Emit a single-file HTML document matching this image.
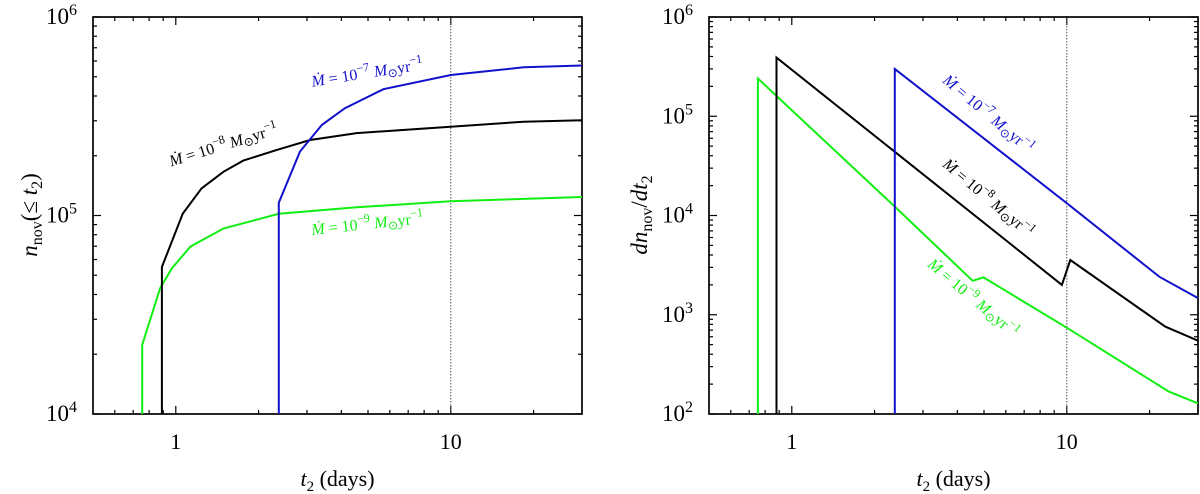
<!DOCTYPE html>
<html><head><meta charset="utf-8"><style>
body{margin:0;background:#fff;}
svg{display:block;font-family:"Liberation Serif",serif;}
</style></head><body>
<svg id="fig" width="1200" height="494" viewBox="0 0 1200 494"></svg>
<script>
// ---- data ----
const xTicks = [1, 10];
const xTickLabels = ["1", "10"];
const leftYTicks = [4, 5, 6];
const rightYTicks = [2, 3, 4, 5, 6];
// left panel: cumulative n_nov(<= t2)
const leftBlackT = [0.89, 0.89, 1.06, 1.24, 1.49, 1.76, 2.33, 3.08, 4.55, 10, 18.4, 30];
const leftBlackN = [1e4, 5.5e4, 1.02e5, 1.37e5, 1.66e5, 1.89e5, 2.14e5, 2.4e5, 2.6e5, 2.8e5, 2.97e5, 3.02e5];
const leftBlueT = [2.37, 2.37, 2.83, 3.4, 4.12, 5.69, 10, 18.4, 30];
const leftBlueN = [1e4, 1.16e5, 2.1e5, 2.86e5, 3.47e5, 4.33e5, 5.1e5, 5.58e5, 5.7e5];
const leftGreenT = [0.755, 0.755, 0.877, 0.966, 1.13, 1.49, 2.37, 4.55, 10, 30];
const leftGreenN = [1e4, 2.23e4, 4.3e4, 5.4e4, 6.97e4, 8.6e4, 1.02e5, 1.1e5, 1.18e5, 1.24e5];
// right panel: dn/dt2
const rightBlackT = [0.88, 0.88, 9.6, 10.3, 22.8, 30];
const rightBlackR = [100, 3.9e5, 2.0e3, 3.56e3, 760, 548];
const rightBlueT = [2.37, 2.37, 10, 21.7, 30];
const rightBlueR = [100, 3.0e5, 1.33e4, 2.42e3, 1.47e3];
const rightGreenT = [0.753, 0.753, 2.37, 4.55, 4.98, 10, 23.5, 30];
const rightGreenR = [100, 2.4e5, 1.23e4, 2.2e3, 2.38e3, 740, 168, 128];

const NS = "http://www.w3.org/2000/svg";
const svg = document.getElementById("fig");
function el(tag, attrs, parent){
  const e = document.createElementNS(NS, tag);
  for (const k in attrs) e.setAttribute(k, attrs[k]);
  (parent || svg).appendChild(e);
  return e;
}
const XMIN = Math.log10(0.5), XMAX = Math.log10(30);
function makePanel(x0, x1, y0, y1, ymin, ymax){
  return {
    x: t => x0 + (Math.log10(t) - XMIN) / (XMAX - XMIN) * (x1 - x0),
    y: v => y1 - (Math.log10(v) - ymin) / (ymax - ymin) * (y1 - y0),
    x0, x1, y0, y1, ymin, ymax
  };
}
const L = makePanel(93, 582, 17, 414, 4, 6);
const R = makePanel(709, 1198, 17, 414, 2, 6);

function drawAxes(P, yTicks, name){
  const g = el("g", {});
  
  
  const minors = [0.6,0.7,0.8,0.9,2,3,4,5,6,7,8,9,20,30];
  minors.forEach(t => {
    const x = P.x(t);
    if (x >= P.x1 - 0.5) return;
    el("line", {x1:x, x2:x, y1:P.y1, y2:P.y1-4, stroke:"#000", "stroke-width":1.2}, g);
    el("line", {x1:x, x2:x, y1:P.y0, y2:P.y0+4, stroke:"#000", "stroke-width":1.2}, g);
  });
  xTicks.forEach((t, i) => {
    const x = P.x(t);
    el("line", {x1:x, x2:x, y1:P.y1, y2:P.y1-8, stroke:"#000", "stroke-width":1.2}, g);
    el("line", {x1:x, x2:x, y1:P.y0, y2:P.y0+8, stroke:"#000", "stroke-width":1.2}, g);
    const tl = el("text", {x:x, y:P.y1+35, "text-anchor":"middle", "font-size":22}, g);
    tl.textContent = xTickLabels[i];
    
    
  });
  const dl = el("line", {x1:P.x(10), x2:P.x(10), y1:P.y0, y2:P.y1, stroke:"#555", "stroke-width":1, "stroke-dasharray":"1.5,1.5"}, g);
  
  
  for (let d = P.ymin; d < P.ymax; d++){
    for (let m = 2; m <= 9; m++){
      const y = P.y(m * Math.pow(10, d));
      el("line", {x1:P.x0, x2:P.x0+4, y1:y, y2:y, stroke:"#000", "stroke-width":1.2}, g);
      el("line", {x1:P.x1, x2:P.x1-4, y1:y, y2:y, stroke:"#000", "stroke-width":1.2}, g);
    }
  }
  yTicks.forEach(d => {
    const y = P.y(Math.pow(10, d));
    el("line", {x1:P.x0, x2:P.x0+8, y1:y, y2:y, stroke:"#000", "stroke-width":1.2}, g);
    el("line", {x1:P.x1, x2:P.x1-8, y1:y, y2:y, stroke:"#000", "stroke-width":1.2}, g);
    const tl = el("text", {x:P.x0-16, y:y+7, "text-anchor":"end", "font-size":23}, g);
    
    
    tl.appendChild(document.createTextNode("10"));
    const s = el("tspan", {dy:-9, "font-size":16}, tl);
    s.textContent = String(d);
  });
  const fr = el("rect", {x:P.x0, y:P.y0, width:P.x1-P.x0, height:P.y1-P.y0, fill:"none", stroke:"#000", "stroke-width":1.7}, g);
  
  
  const xt = el("text", {x:(P.x0+P.x1)/2, y:486, "text-anchor":"middle", "font-size":22}, g);
  
  
  const ti = el("tspan", {"font-style":"italic"}, xt); ti.textContent = "t";
  const ts = el("tspan", {dy:5, "font-size":15}, xt); ts.textContent = "2";
  const tr = el("tspan", {dy:-5}, xt); tr.textContent = " (days)";
}
function drawLine(P, ts, vs, color, name){
  const pts = ts.map((t, i) => P.x(t).toFixed(1) + "," + P.y(vs[i]).toFixed(1)).join(" ");
  const pl = el("polyline", {points:pts, fill:"none", stroke:color, "stroke-width":2, "stroke-linejoin":"miter"});
  
  
}
function label(x, y, rot, color, exp, name){
  const t = el("text", {x:0, y:0, transform:`translate(${x},${y}) rotate(${rot})`, "text-anchor":"middle", "font-size":16, fill:color});
  
  
  const a = el("tspan", {"font-style":"italic"}, t); a.textContent = "Ṁ";
  const b = el("tspan", {}, t); b.textContent = " = 10";
  const c = el("tspan", {dy:-7, "font-size":12}, t); c.textContent = "−" + exp;
  const d = el("tspan", {dy:7, "font-style":"italic"}, t); d.textContent = " M";
  const e = el("tspan", {dy:3, "font-size":12}, t); e.textContent = "⊙";
  const f = el("tspan", {dy:-3}, t); f.textContent = "yr";
  const h = el("tspan", {dy:-7, "font-size":12}, t); h.textContent = "−1";
}

drawAxes(L, leftYTicks, "left-panel");
drawAxes(R, rightYTicks, "right-panel");

drawLine(L, leftGreenT, leftGreenN, "#11ee11", "left-series-1e-9");
drawLine(L, leftBlackT, leftBlackN, "#000", "left-series-1e-8");
drawLine(L, leftBlueT, leftBlueN, "#1111cc", "left-series-1e-7");
drawLine(R, rightGreenT, rightGreenR, "#11ee11", "right-series-1e-9");
drawLine(R, rightBlackT, rightBlackR, "#000", "right-series-1e-8");
drawLine(R, rightBlueT, rightBlueR, "#1111cc", "right-series-1e-7");

label(368, 78, -9, "#1111cc", "7", "left-label-1e-7");
label(225, 150, -17, "#000", "8", "left-label-1e-8");
label(368, 229, -6, "#11ee11", "9", "left-label-1e-9");
label(985, 118, 40, "#1111cc", "7", "right-label-1e-7");
label(985, 202, 40, "#000", "8", "right-label-1e-8");
label(970, 302, 40, "#11ee11", "9", "right-label-1e-9");

const yl = el("text", {x:0, y:0, transform:"translate(37,215) rotate(-90)", "text-anchor":"middle", "font-size":23});


(function(){
  const a = el("tspan", {"font-style":"italic"}, yl); a.textContent = "n";
  const b = el("tspan", {dy:5, "font-size":16}, yl); b.textContent = "nov";
  const c = el("tspan", {dy:-5}, yl); c.textContent = "(≤ ";
  const d = el("tspan", {"font-style":"italic"}, yl); d.textContent = "t";
  const e = el("tspan", {dy:5, "font-size":16}, yl); e.textContent = "2";
  const f = el("tspan", {dy:-5}, yl); f.textContent = ")";
})();
const yr = el("text", {x:0, y:0, transform:"translate(647,215) rotate(-90)", "text-anchor":"middle", "font-size":23});


(function(){
  const a = el("tspan", {"font-style":"italic"}, yr); a.textContent = "dn";
  const b = el("tspan", {dy:5, "font-size":16}, yr); b.textContent = "nov";
  const c = el("tspan", {dy:-5}, yr); c.textContent = "/";
  const d = el("tspan", {"font-style":"italic"}, yr); d.textContent = "dt";
  const e = el("tspan", {dy:5, "font-size":16}, yr); e.textContent = "2";
})();
</script>
</body></html>
